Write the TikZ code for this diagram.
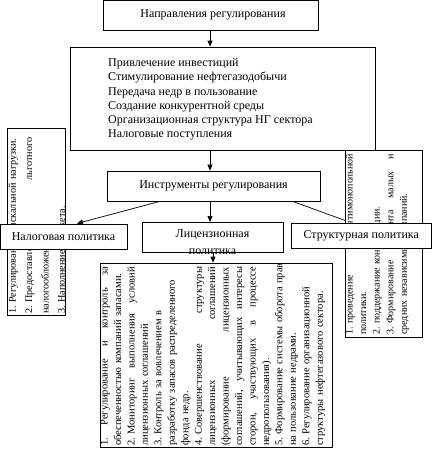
\documentclass[tikz,border=0pt]{standalone}
\usepackage{fontspec}
\setmainfont{Liberation Serif}
\usetikzlibrary{arrows.meta,calc}
\newcommand\jline[2]{\leavevmode\hbox to #1{#2}}
\frenchspacing
\begin{document}
\begin{tikzpicture}[x=1pt,y=-1pt,
  box/.style={draw, fill=white, line width=0.7pt, inner sep=0},
  arr/.style={-{Triangle[length=6pt,width=5pt]}, line width=0.7pt},
  lbl/.style={font=\fontsize{12}{14.3}\selectfont, inner sep=0},
  rotlist/.style={rotate=90, anchor=north west, inner sep=0, align=left, text width=200pt},
]
\useasboundingbox (0,0) rectangle (432,456);

% top boxes
\node[box, minimum width=215pt, minimum height=29.5pt] (dir) at (210.5,15.25) {};
\node[lbl] (dirtext) at (213,14.5) {Направления регулирования};

\node[box, minimum width=305pt, minimum height=103pt] (goals) at (222.5,98.5) {};
\node[lbl, anchor=north west, align=left] (goalstext) at (108,58)
  {Привлечение инвестиций\\Стимулирование нефтегазодобычи\\Передача недр в пользование\\Создание конкурентной среды\\Организационная структура НГ сектора\\Налоговые поступления};

\node[box, minimum width=213pt, minimum height=30pt] (instr) at (213.5,186) {};
\node[lbl] (instrtext) at (instr.center) {Инструменты регулирования};

% connectors
\draw[arr] (dir.south -| 210,0) -- (goals.north -| 210,0);
\draw[arr] (goals.south -| 210,0) -- (instr.north -| 210,0);
\draw[arr] (instr.south -| 210,0) -- (210,222);
\draw[arr] ($(instr.south west)!0.25!(instr.south east)$) -- (77,223.5);
\draw[arr] ($(instr.south west)!0.87!(instr.south east)$) -- (352,223);

% tax list
\node[box, minimum width=58pt, minimum height=187pt] (taxlist) at (36,221.5) {};
\node[rotlist, font=\fontsize{10.2}{16.4}\selectfont] (taxlisttext) at (8.5,314)
  {1. Регулирование фискальной нагрузки.\\
   \jline{176pt}{2. Предоставление\hfill льготного}\\
   налогообложения.\\
   3. Наполнение бюджета.};

% licence list
\node[box, minimum width=232pt, minimum height=184pt] (liclist) at (216,355) {};
\node[rotlist, font=\fontsize{10.5}{13.45}\selectfont] (liclisttext) at (100.5,446)
  {\jline{179pt}{1.\hfill Регулирование\hfill и\hfill контроль\hfill за}\\
   обеспеченностью компаний запасами.\\
   \jline{179pt}{2. Мониторинг\hfill выполнения\hfill условий}\\
   лицензионных соглашений\\
   3. Контроль за вовлечением в\\
   разработку запасов распределенного\\
   фонда недр.\\
   \jline{179pt}{4. Совершенствование\hfill структуры}\\
   \jline{179pt}{лицензионных\hfill соглашений}\\
   \jline{179pt}{(формирование\hfill лицензионных}\\
   \jline{179pt}{соглашений,\hfill учитывающих\hfill интересы}\\
   \jline{179pt}{сторон,\hfill участвующих\hfill в\hfill процессе}\\
   недропользования).\\
   5. Формирование системы оборота прав\\
   на пользование недрами.\\
   6. Регулирование организационной\\
   структуры нефтегазового сектора.};

% structure list
\node[box, minimum width=77pt, minimum height=187pt] (strlist) at (383.5,243.5) {};
\node[rotlist, font=\fontsize{10}{13.6}\selectfont] (strlisttext) at (345.5,335)
  {\jline{181pt}{1. проведение\hfill антимонопольной}\\
   политики.\\
   2. поддержание конкуренции.\\
   \jline{181pt}{3. Формирование\hfill сегмента\hfill малых\hfill и}\\
   средних независимых компаний.};

% policy boxes
\node[box, minimum width=127pt, minimum height=25pt] (tax) at (63.5,236.5) {};
\node[lbl] (taxtext) at (tax.center) {Налоговая политика};

\node[box, minimum width=141pt, minimum height=30pt] (lic) at (212.5,237) {};
\node[lbl, align=center, font=\fontsize{12}{17}\selectfont] (lictext) at (212.5,242) {Лицензионная\\политика};

\node[box, minimum width=140.5pt, minimum height=25pt] (str) at (361.25,235.5) {};
\node[lbl] (strtext) at (str.center) {Структурная политика};

\draw[arr] (lic.south -| 213,0) -- (liclist.north -| 213,0);
\end{tikzpicture}
\end{document}
